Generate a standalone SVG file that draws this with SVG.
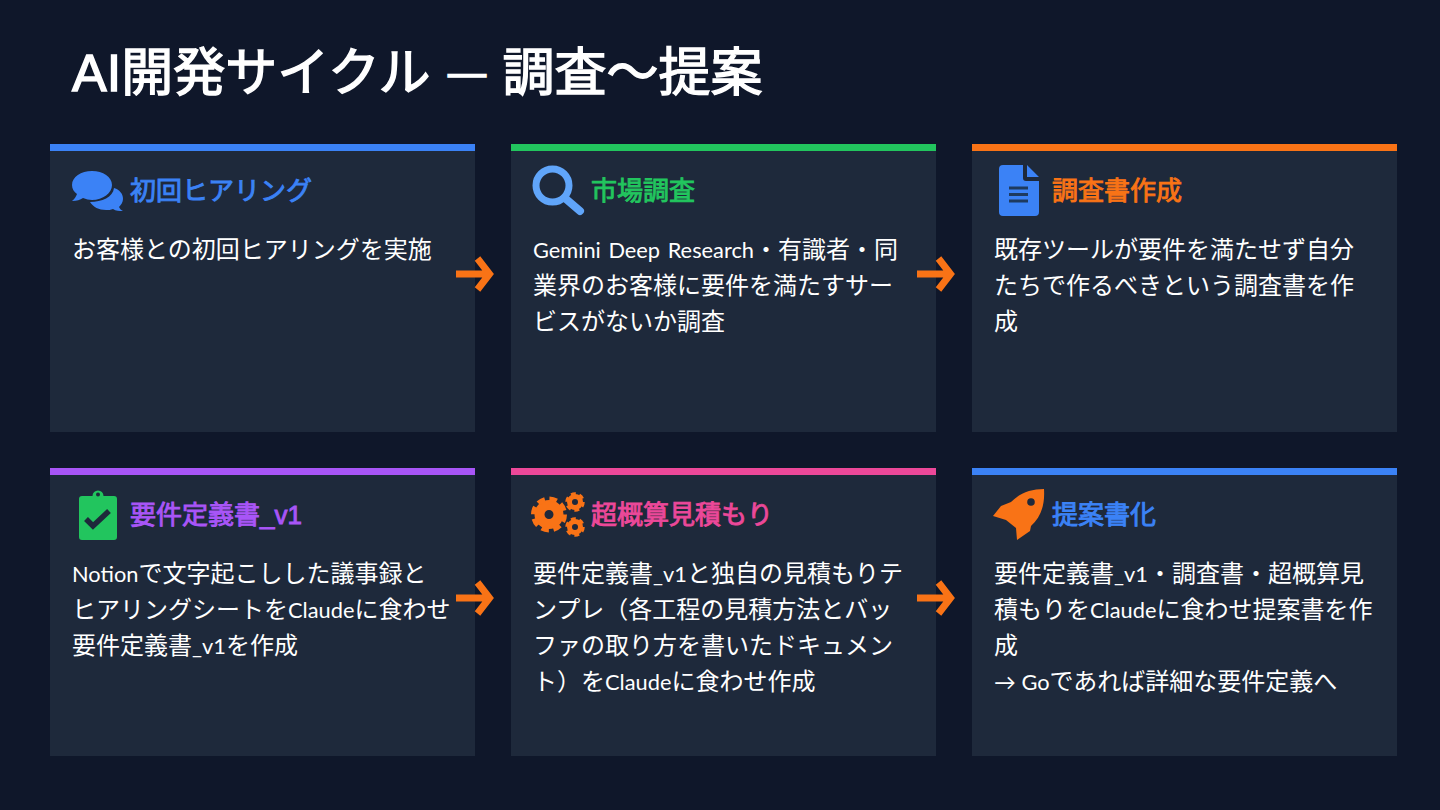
<svg xmlns="http://www.w3.org/2000/svg" width="1440" height="810" viewBox="0 0 1440 810">
<style>
.card{fill:#1e293b}
.head{font-family:"Liberation Sans","Noto Sans CJK JP",sans-serif;font-weight:400;font-size:26px;stroke-width:.9px}
.body{font-family:"Noto Sans CJK JP",sans-serif;font-size:24px;fill:#fff}
.l{font-family:"Lato","Noto Sans CJK JP",sans-serif;font-size:21.8px}
.title{font-family:"Liberation Sans","Noto Sans CJK JP",sans-serif;font-weight:400;font-size:52px;fill:#fff;stroke:#fff;stroke-width:1.4px}
.arrow{fill:none;stroke:#f97316;stroke-width:7}
</style>
<rect width="1440" height="810" fill="#0f172a"/>
<text class="title" x="72" y="91">AI開発サイクル</text>
<text class="title" x="448" y="85.500" style="font-size:38px">—</text>
<text class="title" x="502.500" y="91">調査～提案</text>
<g id="n1"><rect class="card" x="50" y="144" width="425" height="288"/><rect x="50" y="144" width="425" height="7" fill="#3b82f6"/>
<path d="M92 171c11 0 20 6 20 14s-9 15-20 15c-3 0-6-1-9-2-3 2-6 3-11 3 3-2 4-5 5-7-3-2-5-5-5-9 0-8 9-14 20-14zM114 188c6 2 9 6 9 11 0 3-2 6-4 8 1 2 2 3 4 4-4 0-7 0-10-2-2 1-5 1-7 1-7 0-13-3-16-8 12 0 23-5 24-14z" fill="#3b82f6"/>
<text class="head" x="130" y="200" fill="#3b82f6" stroke="#3b82f6">初回ヒアリング</text>
<text class="body" x="72" y="258">お客様との初回ヒアリングを実施</text></g>
<g id="n2"><rect class="card" x="511" y="144" width="425" height="288"/><rect x="511" y="144" width="425" height="7" fill="#22c55e"/>
<circle cx="552.500" cy="185.500" r="16.500" fill="none" stroke="#60a5fa" stroke-width="7"/><path d="M566 199l14 12" stroke="#60a5fa" stroke-width="8" stroke-linecap="round"/>
<text class="head" x="591" y="200" fill="#22c55e" stroke="#22c55e">市場調査</text>
<text class="body" x="533" y="258"><tspan class="l" word-spacing="2">Gemini Deep Research</tspan>・有識者・同</text>
<text class="body" x="533" y="294">業界のお客様に要件を満たすサー</text>
<text class="body" x="533" y="330">ビスがないか調査</text></g>
<g id="n3"><rect class="card" x="972" y="144" width="425" height="288"/><rect x="972" y="144" width="425" height="7" fill="#f97316"/>
<path d="M1003 165h20v13a3 3 0 0 0 3 3h13v31a4 4 0 0 1-4 4h-32a4 4 0 0 1-4-4v-43a4 4 0 0 1 4-4zM1027 165l12 12h-12z" fill="#3b82f6"/><path d="M1009 188h19M1009 194.500h19M1009 201h19" stroke="#1e3a5f" stroke-width="3"/>
<text class="head" x="1052" y="200" fill="#f97316" stroke="#f97316">調査書作成</text>
<text class="body" x="994" y="258">既存ツールが要件を満たせず自分</text>
<text class="body" x="994" y="294">たちで作るべきという調査書を作</text>
<text class="body" x="994" y="330">成</text></g>
<g id="n4"><rect class="card" x="50" y="468" width="425" height="288"/><rect x="50" y="468" width="425" height="7" fill="#a855f7"/>
<path d="M92.500 496a5.500 5.500 0 0 1 11 0h10.500a3 3 0 0 1 3 3v38a3 3 0 0 1-3 3H82a3 3 0 0 1-3-3v-38a3 3 0 0 1 3-3z" fill="#22c55e"/><circle cx="98" cy="494.500" r="2" fill="#1e293b"/><path d="M86 519l7 7 16-15" fill="none" stroke="#1e293b" stroke-width="5.500"/>
<text class="head" x="130" y="524" fill="#a855f7" stroke="#a855f7">要件定義書_v1</text>
<text class="body" x="72" y="582"><tspan class="l">Notion</tspan>で文字起こしした議事録と</text>
<text class="body" x="72" y="618">ヒアリングシートを<tspan class="l">Claude</tspan>に食わせ</text>
<text class="body" x="72" y="654">要件定義書<tspan class="l">_v1</tspan>を作成</text></g>
<g id="n5"><rect class="card" x="511" y="468" width="425" height="288"/><rect x="511" y="468" width="425" height="7" fill="#ec4899"/>
<circle cx="549" cy="514.500" r="9.500" fill="none" stroke="#f97316" stroke-width="10"/><circle cx="549" cy="514.500" r="15.500" fill="none" stroke="#f97316" stroke-width="5" stroke-dasharray="7.500 4.670"/>
<circle cx="575" cy="502" r="5.500" fill="none" stroke="#f97316" stroke-width="5"/><circle cx="575" cy="502" r="8.500" fill="none" stroke="#f97316" stroke-width="2.500" stroke-dasharray="5 3.900"/>
<circle cx="575" cy="527" r="5.500" fill="none" stroke="#f97316" stroke-width="5"/><circle cx="575" cy="527" r="8.500" fill="none" stroke="#f97316" stroke-width="2.500" stroke-dasharray="5 3.900"/>
<text class="head" x="591" y="524" fill="#ec4899" stroke="#ec4899">超概算見積もり</text>
<text class="body" x="533" y="582">要件定義書<tspan class="l">_v1</tspan>と独自の見積もりテ</text>
<text class="body" x="533" y="618">ンプレ（各工程の見積方法とバッ</text>
<text class="body" x="533" y="654">ファの取り方を書いたドキュメン</text>
<text class="body" x="533" y="690">ト）を<tspan class="l">Claude</tspan>に食わせ作成</text></g>
<g id="n6"><rect class="card" x="972" y="468" width="425" height="288"/><rect x="972" y="468" width="425" height="7" fill="#3b82f6"/>
<path d="M1044 489c1 16-3 28-13 37l-1 5-13 9-1-12-10-8-13-4 8-10 10-4c9-9 20-13 33-13z" fill="#f97316"/><circle cx="1031" cy="502" r="3.800" fill="#1e293b"/>
<text class="head" x="1052" y="524" fill="#3b82f6" stroke="#3b82f6">提案書化</text>
<text class="body" x="994" y="582">要件定義書<tspan class="l">_v1</tspan>・調査書・超概算見</text>
<text class="body" x="994" y="618">積もりを<tspan class="l">Claude</tspan>に食わせ提案書を作</text>
<text class="body" x="994" y="654">成</text>
<text class="body" x="994" y="690"><tspan class="l">→ Go</tspan>であれば詳細な要件定義へ</text></g>
<g id="connectors">
<path class="arrow" d="M456 274h32M477.500 258.500l12 15.500-12 15.500"/>
<path class="arrow" d="M917 274h32M938.500 258.500l12 15.500-12 15.500"/>
<path class="arrow" d="M456 598h32M477.500 582.500l12 15.500-12 15.500"/>
<path class="arrow" d="M917 598h32M938.500 582.500l12 15.500-12 15.500"/>
</g>
</svg>
